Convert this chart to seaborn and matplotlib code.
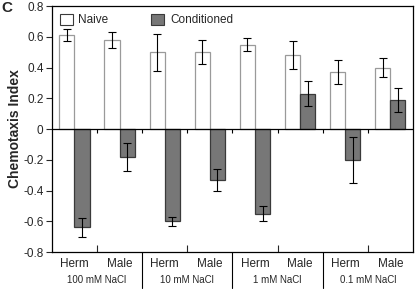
import numpy as np
import pandas as pd
import matplotlib
matplotlib.use("Agg")
import matplotlib.pyplot as plt
import matplotlib.transforms as mtransforms
import seaborn as sns

# Data
groups = ["100 mM NaCl", "10 mM NaCl", "1 mM NaCl", "0.1 mM NaCl"]
sexes = ["Herm", "Male"]
conditions = ["Naive", "Conditioned"]
naive_vals = [0.61, 0.58, 0.50, 0.50, 0.55, 0.48, 0.37, 0.40]
naive_err = [0.04, 0.05, 0.12, 0.08, 0.04, 0.09, 0.08, 0.06]
cond_vals = [-0.64, -0.18, -0.60, -0.33, -0.55, 0.23, -0.20, 0.19]
cond_err = [0.06, 0.09, 0.03, 0.07, 0.05, 0.08, 0.15, 0.08]

cats = [f"{s} {g}" for g in groups for s in sexes]
df = pd.DataFrame({
    "cat": cats * 2,
    "condition": ["Naive"] * len(cats) + ["Conditioned"] * len(cats),
    "value": naive_vals + cond_vals,
    "err": naive_err + cond_err,
})

sns.set_style("white")
plt.rcParams["font.family"] = ["Liberation Sans", "DejaVu Sans"]
plt.rcParams["axes.unicode_minus"] = False

fig = plt.figure(figsize=(4.15, 2.9), dpi=100)
ax = fig.add_axes([0.125, 0.131, 0.87, 0.848])

sns.barplot(data=df, x="cat", y="value", hue="condition", order=cats,
            hue_order=conditions, palette=["white", "#777777"],
            width=0.67, errorbar=None, saturation=1, ax=ax, legend=True)

# style bars and add error bars at bar centres
bars = [p for p in ax.patches if p.get_height() != 0 or p.get_width() != 0][:2 * len(cats)]
for i, p in enumerate(bars):
    naive = i < len(cats)
    p.set_edgecolor("#9a9a9a" if naive else "#3a3a3a")
    p.set_linewidth(0.9)
    xc = p.get_x() + p.get_width() / 2
    ax.errorbar(xc, df["value"][i], yerr=df["err"][i], color="black",
                lw=0.8, capsize=2.6, capthick=0.8, zorder=5)

ax.set_ylim(-0.8, 0.8)
ax.set_xlim(-0.5, len(cats) - 0.5)
ax.set_yticks(np.arange(-0.8, 0.81, 0.2))
ax.set_yticklabels([f"{v:g}" if abs(v) > 1e-9 else "0" for v in np.arange(-0.8, 0.81, 0.2)])
ax.tick_params(axis="y", direction="out", length=4, width=0.8, labelsize=8.5, pad=2, left=True)

# zero line with small ticks at category boundaries
ax.axhline(0, color="black", lw=0.9)
bounds = np.arange(0.5, len(cats) - 0.5, 1)
ax.vlines(bounds, -0.027, 0, color="black", lw=0.8)

# bottom: ticks between Herm and Male, labels per category
ax.set_xticks(np.arange(0.5, len(cats), 2))
ax.set_xticklabels([])
ax.tick_params(axis="x", direction="in", length=5, width=0.8, bottom=True)
ax.set_xticks(np.arange(len(cats)), minor=True)
ax.set_xticklabels([s for g in groups for s in sexes], minor=True, fontsize=8.5)
ax.tick_params(axis="x", which="minor", length=0, pad=4)
ax.set_xlabel("")

trans = mtransforms.blended_transform_factory(ax.transData, ax.transAxes)
for j, g in enumerate(groups):
    ax.text(2 * j + 0.5, -0.115, g, transform=trans, ha="center", va="center", fontsize=7)
    if j > 0:
        ax.plot([2 * j - 0.5, 2 * j - 0.5], [0, -0.145], transform=trans,
                color="black", lw=0.8, clip_on=False)

for s in ax.spines.values():
    s.set_color("black")
    s.set_linewidth(0.9)

ax.set_ylabel("Chemotaxis Index", fontsize=10, fontweight="bold", labelpad=1)

leg = ax.legend(loc="upper left", ncol=2, frameon=False, fontsize=8.5,
                handlelength=1.1, handleheight=1.1, columnspacing=3.6,
                handletextpad=0.5, borderaxespad=0.35, borderpad=0.3,
                bbox_to_anchor=(0.0, 1.0))
for h in leg.legend_handles:
    h.set_edgecolor("#3a3a3a")
    h.set_linewidth(0.8)

fig.text(0.003, 0.998, "C", fontsize=11, fontweight="bold", ha="left", va="top")

fig.savefig("out.png", dpi=100)
